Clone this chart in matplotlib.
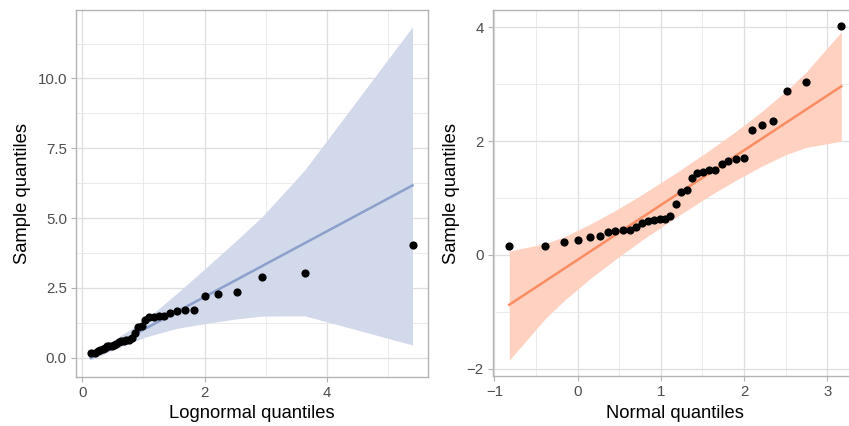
import numpy as np
import matplotlib
matplotlib.use("Agg")
import matplotlib.pyplot as plt
from matplotlib.ticker import MultipleLocator, FormatStrFormatter

plt.rcParams['font.family'] = ['Liberation Sans', 'DejaVu Sans']

# sorted sample, shared by both panels
sample_q = [0.158, 0.158, 0.228, 0.264, 0.322, 0.334, 0.404, 0.417, 0.434, 0.439,
            0.487, 0.568, 0.592, 0.610, 0.638, 0.638, 0.691, 0.902, 1.112, 1.142,
            1.353, 1.441, 1.464, 1.494, 1.494, 1.594, 1.657, 1.692, 1.705, 2.197,
            2.279, 2.360, 2.877, 3.035, 4.025]

# theoretical quantiles
lognormal_q = [0.137, 0.204, 0.252, 0.293, 0.332, 0.370, 0.406, 0.442, 0.479, 0.516,
               0.554, 0.593, 0.633, 0.674, 0.717, 0.762, 0.810, 0.860, 0.913, 0.970,
               1.031, 1.097, 1.169, 1.248, 1.335, 1.432, 1.543, 1.671, 1.820, 2.000,
               2.225, 2.520, 2.939, 3.634, 5.396]
normal_q = [-0.821, -0.389, -0.161, 0.004, 0.148, 0.264, 0.360, 0.451, 0.544, 0.624,
            0.703, 0.772, 0.848, 0.920, 0.988, 1.048, 1.116, 1.180, 1.240, 1.312,
            1.376, 1.441, 1.513, 1.585, 1.657, 1.736, 1.813, 1.900, 1.996, 2.096,
            2.212, 2.345, 2.513, 2.744, 3.169]

# reference lines (intercept, slope)
logn_line = (-0.17, 1.175)
norm_line = (-0.085, 0.962)

# confidence bands
logn_band_x = [0.137, 0.516, 1.031, 1.543, 2.000, 2.520, 2.939, 3.634, 5.396]
logn_band_lo = [-0.08, 0.29, 0.74, 1.05, 1.22, 1.39, 1.49, 1.50, 0.455]
logn_band_hi = [0.0, 0.64, 1.35, 2.30, 3.18, 4.20, 5.05, 6.72, 11.85]

norm_band_x = [-0.821, -0.389, -0.161, 0.148, 0.451, 0.772, 1.180, 1.585, 1.900,
               2.212, 2.513, 2.744, 3.169]
norm_band_lo = [-1.85, -1.12, -0.80, -0.42, -0.08, 0.26, 0.66, 1.04, 1.31, 1.56,
                1.77, 1.89, 2.00]
norm_band_hi = [0.07, 0.20, 0.32, 0.54, 0.78, 1.06, 1.44, 1.84, 2.17, 2.52, 2.89,
                3.21, 3.92]

W, H = 849, 426
fig = plt.figure(figsize=(W / 100, H / 100), dpi=100)

def px_box(x0, y0, x1, y1):
    return [x0 / W, 1 - y1 / H, (x1 - x0) / W, (y1 - y0) / H]

ax1 = fig.add_axes(px_box(76, 10, 428.3, 376.7))
ax2 = fig.add_axes(px_box(492.7, 10, 858, 376))

def style(ax):
    for s in ax.spines.values():
        s.set_color('#b3b3b3')
        s.set_linewidth(1.0)
    ax.grid(True, which='major', color='#dedede', lw=0.9)
    ax.grid(True, which='minor', color='#e8e8e8', lw=0.6)
    ax.set_axisbelow(True)
    ax.tick_params(which='major', length=3.5, color='#b3b3b3', labelsize=10.8,
                   labelcolor='#4d4d4d', pad=3)
    ax.tick_params(which='minor', length=0)

def draw(ax, xq, line, bx, blo, bhi, col, fill):
    ax.fill_between(bx, blo, bhi, color=fill, lw=0, zorder=1)
    xs = np.array([xq[0], xq[-1]])
    ax.plot(xs, line[0] + line[1] * xs, color=col, lw=1.8, zorder=2)
    ax.plot(xq, sample_q, 'o', color='black', ms=5.9, mec='none', zorder=3)

draw(ax1, lognormal_q, logn_line, logn_band_x, logn_band_lo, logn_band_hi,
     '#8DA0CB', '#d1d9ea')
draw(ax2, normal_q, norm_line, norm_band_x, norm_band_lo, norm_band_hi,
     '#FC8D62', '#fed1c0')

ax1.set_xlim(-0.103, 5.654)
ax1.set_ylim(-0.68, 12.45)
ax1.xaxis.set_major_locator(MultipleLocator(2))
ax1.xaxis.set_minor_locator(MultipleLocator(1))
ax1.yaxis.set_major_locator(MultipleLocator(2.5))
ax1.yaxis.set_minor_locator(MultipleLocator(1.25))
ax1.yaxis.set_major_formatter(FormatStrFormatter('%.1f'))

ax2.set_xlim(-1.02, 3.37)
ax2.set_ylim(-2.127, 4.306)
ax2.xaxis.set_major_locator(MultipleLocator(1))
ax2.xaxis.set_minor_locator(MultipleLocator(0.5))
ax2.yaxis.set_major_locator(MultipleLocator(2))
ax2.yaxis.set_minor_locator(MultipleLocator(1))
ax2.xaxis.set_major_formatter(plt.FuncFormatter(lambda v, p: f'{v:.0f}'.replace('-', '\u2212')))
ax2.yaxis.set_major_formatter(plt.FuncFormatter(lambda v, p: f'{v:.0f}'.replace('-', '\u2212')))

for ax in (ax1, ax2):
    style(ax)
    ax.set_ylabel('Sample quantiles', fontsize=13.2, labelpad=5)
ax1.set_xlabel('Lognormal quantiles', fontsize=13.2, labelpad=4)
ax2.set_xlabel('Normal quantiles', fontsize=13.2, labelpad=4)

fig.savefig('out.png', dpi=100)
